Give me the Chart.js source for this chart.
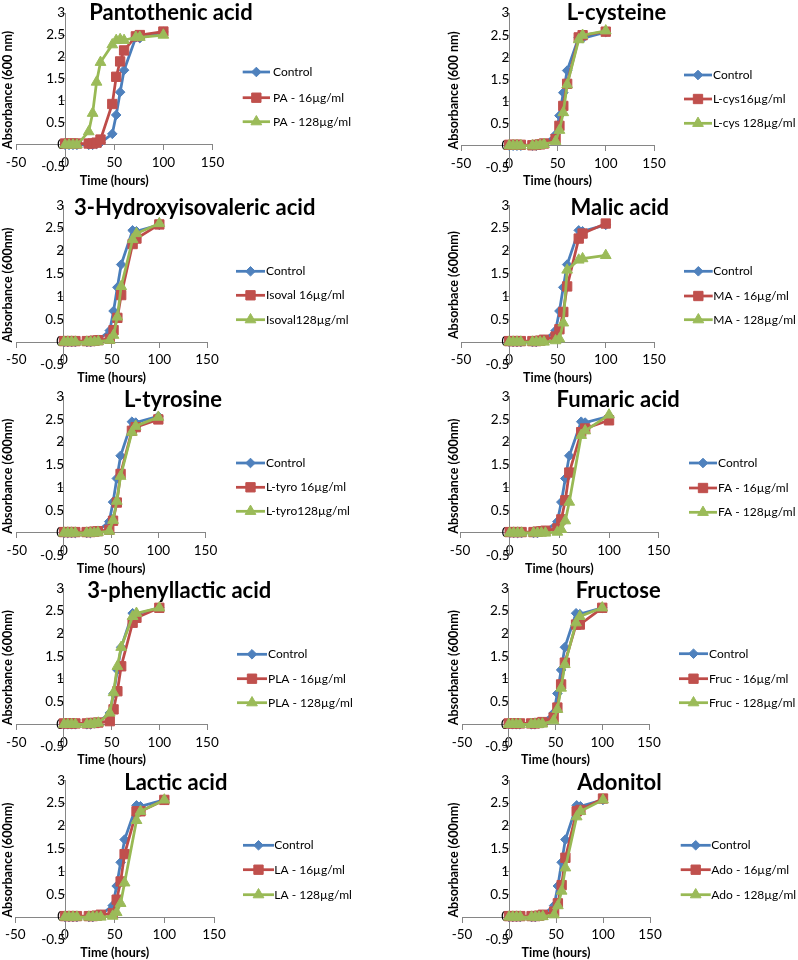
<!DOCTYPE html>
<html><head><meta charset="utf-8">
<script src="https://cdn.jsdelivr.net/npm/chart.js@4.4.1/dist/chart.umd.min.js"></script>
<style>
html,body{margin:0;padding:0;background:#fff;}
#wrap{position:relative;width:798px;height:960px;overflow:hidden;background:#fff;}
#wrap canvas{position:absolute;left:0;top:0;}
</style></head><body><div id="wrap"></div>
<script>
// ---------- DATA ----------
const times = [0, 4, 8, 12, 24, 28, 32, 36, 48, 52, 56, 60, 72, 76, 100];
const xTickValues = [-50, 0, 50, 100, 150];
const yTickValues = [-0.5, 0, 0.5, 1, 1.5, 2, 2.5, 3];

const control = [0, 0, 0, 0, 0, 0, 0.02, 0.05, 0.25, 0.68, 1.2, 1.7, 2.45, 2.43, 2.57];

const pa16 = [0.03, 0.03, 0.03, 0.03, 0.03, 0.03, 0.05, 0.12, 0.93, 1.55, 1.9, 2.15, 2.47, 2.5, 2.58];
const pa128 = [0, 0, 0, 0, 0.3, 0.72, 1.43, 1.88, 2.28, 2.38, 2.4, 2.38, 2.45, 2.45, 2.5];

const lcys16 = [0.02, 0.02, 0.02, 0.02, 0.01, 0.02, 0.03, 0.05, 0.15, 0.45, 0.9, 1.4, 2.45, 2.5, 2.58];
const lcys128 = [0, 0, 0, 0, 0, 0, 0.01, 0.03, 0.1, 0.35, 0.75, 1.38, 2.4, 2.5, 2.6];

const isoval16 = [0.02, 0.02, 0.02, 0.02, 0.02, 0.02, 0.03, 0.04, 0.07, 0.26, 0.53, 1.03, 2.15, 2.27, 2.58];
const isoval128 = [0, 0, 0, 0, 0, 0, 0, 0.01, 0.04, 0.15, 0.55, 1.22, 2.25, 2.38, 2.6];

const ma16 = [0.02, 0.02, 0.02, 0.02, 0.02, 0.02, 0.03, 0.05, 0.12, 0.28, 0.66, 1.22, 2.27, 2.38, 2.6];
const ma128 = [0, 0, 0, 0, 0, 0, 0, 0, 0.03, 0.07, 0.42, 1.58, 1.8, 1.83, 1.9];

const ltyro16 = [0.02, 0.02, 0.02, 0.02, 0.02, 0.02, 0.03, 0.04, 0.07, 0.27, 0.67, 1.3, 2.25, 2.33, 2.5];
const ltyro128 = [0, 0, 0, 0, 0, 0, 0, 0.01, 0.04, 0.28, 0.7, 1.25, 2.22, 2.35, 2.55];

const fa16 = [0.02, 0.02, 0.02, 0.02, 0.02, 0.03, 0.04, 0.05, 0.1, 0.3, 0.72, 1.33, 2.22, 2.3, 2.48];
const fa128 = [0, 0, 0, 0, 0, 0, 0, 0, 0.02, 0.08, 0.27, 0.68, 2.15, 2.25, 2.6];

const pla16 = [0.02, 0.02, 0.02, 0.02, 0.02, 0.03, 0.03, 0.04, 0.07, 0.33, 0.73, 1.28, 2.24, 2.35, 2.57];
const pla128 = [0, 0, 0, 0, 0, 0, 0.02, 0.03, 0.25, 0.7, 1.28, 1.7, 2.38, 2.45, 2.57];

const fruc16 = [0.02, 0.02, 0.02, 0.02, 0.02, 0.02, 0.03, 0.05, 0.15, 0.37, 0.88, 1.36, 2.2, 2.2, 2.57];
const fruc128 = [0, 0, 0, 0, 0, 0, 0, 0.01, 0.08, 0.33, 0.8, 1.32, 2.24, 2.38, 2.57];

const la16 = [0.02, 0.02, 0.02, 0.02, 0.02, 0.02, 0.03, 0.05, 0.08, 0.38, 0.78, 1.38, 2.32, 2.32, 2.57];
const la128 = [0, 0, 0, 0, 0, 0, 0, 0, 0.02, 0.1, 0.3, 0.75, 2.12, 2.32, 2.57];

const ado16 = [0.02, 0.02, 0.02, 0.02, 0.02, 0.02, 0.03, 0.05, 0.12, 0.3, 0.7, 1.3, 2.32, 2.35, 2.6];
const ado128 = [0, 0, 0, 0, 0, 0, 0, 0.01, 0.05, 0.25, 0.57, 1.08, 2.2, 2.32, 2.57];

const panelTitles = ["Pantothenic acid", "L-cysteine", "3-Hydroxyisovaleric acid", "Malic acid",
  "L-tyrosine", "Fumaric acid", "3-phenyllactic acid", "Fructose", "Lactic acid", "Adonitol"];
const yAxisTitles = ["Absorbance (600 nm)", "Absorbance (600 nm)", "Absorbance (600nm)", "Absorbace (600nm)",
  "Absorbance (600nm)", "Absorbance (600nm)", "Absorbance (600nm)", "Absorbance (600nm)",
  "Absorbance (600nm)", "Absorbance (600nm)"];
const xAxisTitle = "Time (hours)";
const seriesNames = [
  ["Control", "PA - 16µg/ml", "PA - 128µg/ml"],
  ["Control", "L-cys16µg/ml", "L-cys 128µg/ml"],
  ["Control", "Isoval 16µg/ml", "Isoval128µg/ml"],
  ["Control", "MA - 16µg/ml", "MA - 128µg/ml"],
  ["Control", "L-tyro 16µg/ml", "L-tyro128µg/ml"],
  ["Control", "FA - 16µg/ml", "FA - 128µg/ml"],
  ["Control", "PLA - 16µg/ml", "PLA - 128µg/ml"],
  ["Control", "Fruc - 16µg/ml", "Fruc - 128µg/ml"],
  ["Control", "LA - 16µg/ml", "LA - 128µg/ml"],
  ["Control", "Ado - 16µg/ml", "Ado - 128µg/ml"]
];
const seriesValues = [
  [control, pa16, pa128], [control, lcys16, lcys128], [control, isoval16, isoval128], [control, ma16, ma128],
  [control, ltyro16, ltyro128], [control, fa16, fa128], [control, pla16, pla128], [control, fruc16, fruc128],
  [control, la16, la128], [control, ado16, ado128]
];

// ---------- LAYOUT / STYLE ----------
const W = 798, H = 960;
// plot frames: L/R = pixel of x=-50 / x=150, T/B = pixel of y=3 / y=-0.5
const frames = [
  {L: 16, R: 212.5, T: 7.3, B: 166.8, tx: 171, ty: 20, yt: 8.4, lg: {x1: 242.7, x2: 270, tx: 273, rows: [72, 97.7, 121.7]}},
  {L: 461, R: 654, T: 8.3, B: 167.8, tx: 616.5, ty: 20, yt: 454, lg: {x1: 684, x2: 712, tx: 713, rows: [75, 99, 123.3]}},
  {L: 16.3, R: 207, T: 205.3, B: 364.8, tx: 194.7, ty: 215.3, yt: 8.4, lg: {x1: 236, x2: 265, tx: 266, rows: [271.3, 295.3, 319.7]}},
  {L: 461, R: 654, T: 205.3, B: 364.8, tx: 619.8, ty: 215.3, yt: 454, lg: {x1: 684, x2: 712.7, tx: 713.3, rows: [271.3, 296, 319.7]}},
  {L: 16.8, R: 205.5, T: 396.7, B: 555.7, tx: 173, ty: 407.3, yt: 8.4, lg: {x1: 236, x2: 265, tx: 266, rows: [463, 487.3, 511.3]}},
  {L: 460, R: 658.7, T: 396.7, B: 555.7, tx: 618.2, ty: 407, yt: 454, lg: {x1: 689, x2: 717, tx: 718, rows: [463, 488, 512.3]}},
  {L: 16.3, R: 207, T: 588.3, B: 747, tx: 179.3, ty: 597.7, yt: 8.4, lg: {x1: 237, x2: 267, tx: 268, rows: [654.3, 678.7, 702.7]}},
  {L: 462, R: 649, T: 588.3, B: 747, tx: 618.2, ty: 597.7, yt: 454, lg: {x1: 679, x2: 708, tx: 709, rows: [653.7, 678.7, 702.7]}},
  {L: 14, R: 214, T: 780.3, B: 939.8, tx: 175.8, ty: 789.7, yt: 8.4, lg: {x1: 243, x2: 274, tx: 274.3, rows: [845.3, 869.7, 894.7]}},
  {L: 462, R: 650, T: 780.3, B: 939.8, tx: 619.5, ty: 789.7, yt: 454, lg: {x1: 680.7, x2: 710.7, tx: 711.3, rows: [845.3, 869.7, 894.7]}}
];
const FONT = "Lato, 'Liberation Sans', sans-serif";
const styles = [
  {line: '#4A7EBB', fill: '#4F81BD', point: 'rectRot', r: 4.8},
  {line: '#BE4B48', fill: '#C0504D', point: 'rect', r: 6.6},
  {line: '#98B954', fill: '#9BBB59', point: 'triangle', r: 6.2}
];
const AXIS = '#868686';

function drawMarker(ctx, st, x, y) {
  if (Chart.helpers && Chart.helpers.drawPoint) {
    ctx.fillStyle = st.fill; ctx.strokeStyle = st.fill; ctx.lineWidth = 1;
    Chart.helpers.drawPoint(ctx, {pointStyle: st.point, radius: st.r, rotation: 0, borderWidth: 1}, x, y);
  }
}

const decor = {
  id: 'decor',
  afterDraw(chart, args, opts) {
    const i = opts.index, f = frames[i], ctx = chart.ctx, ca = chart.chartArea;
    ctx.save();
    ctx.fillStyle = '#000';
    ctx.font = 'bold 22px ' + FONT;
    ctx.textAlign = 'center'; ctx.textBaseline = 'alphabetic';
    ctx.fillText(panelTitles[i], f.tx, f.ty);
    ctx.save();
    ctx.translate(f.yt, (ca.top + ca.bottom) / 2);
    ctx.rotate(-Math.PI / 2);
    ctx.font = 'bold 12.5px ' + FONT;
    ctx.textBaseline = 'middle';
    ctx.fillText(yAxisTitles[i], 0, 0);
    ctx.restore();
    // legend
    const lg = f.lg;
    for (let k = 0; k < 3; k++) {
      const st = styles[k], y = lg.rows[k];
      ctx.strokeStyle = st.line; ctx.lineWidth = 2.75; ctx.lineCap = 'butt';
      ctx.beginPath(); ctx.moveTo(lg.x1, y); ctx.lineTo(lg.x2, y); ctx.stroke();
      drawMarker(ctx, st, (lg.x1 + lg.x2) / 2, y);
      ctx.fillStyle = '#000';
      ctx.font = '12px ' + FONT; ctx.textAlign = 'left'; ctx.textBaseline = 'middle';
      ctx.fillText(seriesNames[i][k], lg.tx, y);
    }
    ctx.restore();
  }
};

const wrap = document.getElementById('wrap');
frames.forEach((f, i) => {
  const cv = document.createElement('canvas');
  cv.width = W; cv.height = H; cv.style.width = W + 'px'; cv.style.height = H + 'px';
  wrap.appendChild(cv);
  const datasets = seriesValues[i].map((vals, k) => ({
    label: seriesNames[i][k],
    data: times.map((t, j) => ({x: t, y: vals[j]})),
    borderColor: styles[k].line, backgroundColor: styles[k].fill,
    pointBackgroundColor: styles[k].fill, pointBorderColor: styles[k].fill,
    pointStyle: styles[k].point, pointRadius: styles[k].r, pointBorderWidth: 1,
    borderWidth: 2.75, tension: 0, order: 3 - k, clip: false
  }));
  new Chart(cv, {
    type: 'line',
    data: {datasets},
    plugins: [decor],
    options: {
      responsive: false, animation: false, devicePixelRatio: 1,
      layout: {padding: {left: f.L, right: W - f.R, top: f.T, bottom: H - f.B}},
      plugins: {legend: {display: false}, title: {display: false}, tooltip: {enabled: false}, decor: {index: i}},
      scales: {
        x: {
          type: 'linear', position: {y: 0}, min: -50, max: 150,
          afterBuildTicks: (s) => { s.ticks = xTickValues.map(v => ({value: v})); },
          ticks: {autoSkip: false, maxRotation: 0, color: '#000', padding: 5, font: {size: 13.5, family: FONT}, callback: v => String(v)},
          grid: {drawOnChartArea: false, drawTicks: true, tickLength: 5, color: AXIS},
          border: {display: true, color: AXIS, width: 1},
          title: {display: true, text: xAxisTitle, color: '#000', font: {size: 12.5, weight: 'bold', family: FONT}, padding: {top: -3, bottom: 0}}
        },
        y: {
          type: 'linear', position: {x: 0}, min: -0.5, max: 3,
          afterBuildTicks: (s) => { s.ticks = yTickValues.map(v => ({value: v})); },
          ticks: {color: '#000', padding: 5, font: {size: 13.5, family: FONT}, callback: v => String(v)},
          grid: {drawOnChartArea: false, drawTicks: true, tickLength: 5, color: AXIS},
          border: {display: true, color: AXIS, width: 1}
        }
      }
    }
  });
});
</script>
</body></html>
